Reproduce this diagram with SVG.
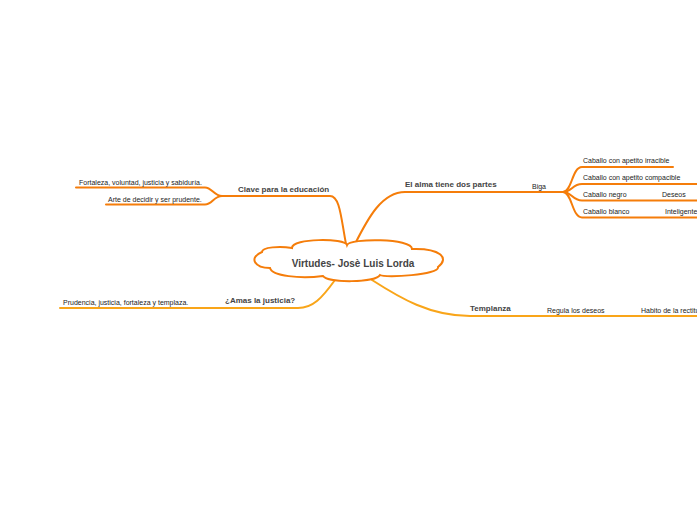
<svg xmlns="http://www.w3.org/2000/svg" width="697" height="520" viewBox="0 0 697 520">
<style>
.c{fill:none;stroke-width:2;stroke-linecap:round}
.o{stroke:#f57d0a}
.y{stroke:#f9a519}
.t{font-family:"Liberation Sans",Arial,sans-serif}
.b{font-weight:bold;font-size:8px;fill:#444}
.s{font-size:7px;fill:#222}
</style>
<rect width="697" height="520" fill="#fff"/>
<g id="connectors">
<path class="c o" d="M346,244 C341,218 340,196 330,196 L222,196"/>
<path class="c o" d="M222,196 C214,196 212,187.5 205,187.5 L76,187.5"/>
<path class="c o" d="M222,196 C214,196 212,204.5 205,204.5 L106,204.5"/>
<path class="c o" d="M355,244 C368,218 382,192 405,192 L563,192"/>
<path class="c o" d="M563,192 C572,192 572,167 582,167 L673,167"/>
<path class="c o" d="M563,192 C572,192 572,184 582,184 L697,184"/>
<path class="c o" d="M563,192 C572,192 572,200.5 582,200.5 L697,200.5"/>
<path class="c o" d="M563,192 C572,192 572,217.5 582,217.5 L697,217.5"/>
<path class="c y" d="M335,280 C322,298 313,308 298,308 L60,308"/>
<path class="c y" d="M372,280 C400,298 430,316 470,316 L697,316"/>
</g>
<g id="center">
<path d="M270,268 C255,268 248,258 262,252 C262,247 280,246 292,248 C292,238 345,238 347,245 C350,238 412,238 412,249 C440,248 450,258 438,267 C440,275 385,278 380,275 C375,283 328,283 323,276 C300,279 272,276 270,268 Z" fill="#fff" stroke="#f57d0a" stroke-width="2"/>
<text class="t" x="353" y="266.5" text-anchor="middle" font-weight="bold" font-size="10" fill="#444">Virtudes- Josè Luis Lorda</text>
</g>
<g id="clave">
<text class="t b" x="238" y="192">Clave para la educación</text>
</g>
<g id="fortaleza">
<text class="t s" x="79" y="185">Fortaleza, voluntad, justicia y sabiduría.</text>
</g>
<g id="arte">
<text class="t s" x="108" y="202">Arte de decidir y ser prudente.</text>
</g>
<g id="amas">
<text class="t b" x="225" y="303">¿Amas la justicia?</text>
</g>
<g id="prudencia">
<text class="t s" x="63" y="305">Prudencia, justicia, fortaleza y templaza.</text>
</g>
<g id="alma">
<text class="t b" x="405" y="187">El alma tiene dos partes</text>
</g>
<g id="biga">
<text class="t s" x="532" y="189">Biga</text>
</g>
<g id="irracible">
<text class="t s" x="583" y="163">Caballo con apetito irracible</text>
</g>
<g id="compacible">
<text class="t s" x="583" y="180">Caballo con apetito compacible</text>
</g>
<g id="negro">
<text class="t s" x="583" y="197">Caballo negro</text>
</g>
<g id="deseos">
<text class="t s" x="662" y="197">Deseos</text>
</g>
<g id="blanco">
<text class="t s" x="583" y="214">Caballo blanco</text>
</g>
<g id="inteligente">
<text class="t s" x="665" y="214">Inteligente</text>
</g>
<g id="templanza">
<text class="t b" x="470" y="311">Templanza</text>
</g>
<g id="regula">
<text class="t s" x="547" y="313">Regula los deseos</text>
</g>
<g id="habito">
<text class="t s" x="641" y="313">Habito de la rectitud</text>
</g>
</svg>
